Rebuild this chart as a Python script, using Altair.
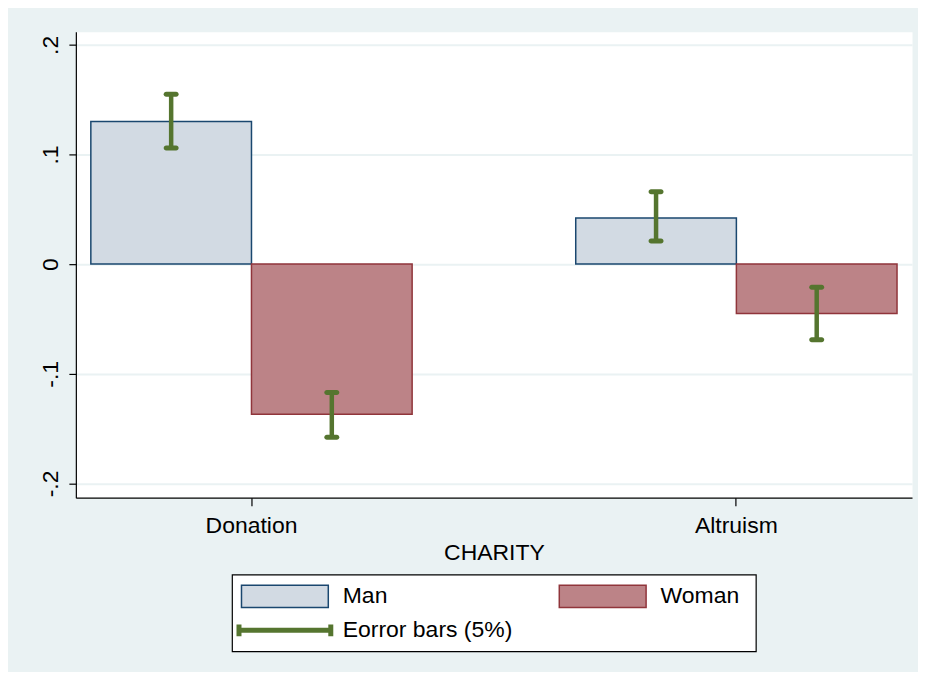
import altair as alt
import pandas as pd

FONT = "Liberation Sans"

# ---- data ----
categories = ["Donation", "Altruism"]
genders = ["Man", "Woman"]
means_man = [0.130, 0.042]
means_woman = [-0.137, -0.045]
ci_low_man = [0.106, 0.021]
ci_high_man = [0.155, 0.066]
ci_low_woman = [-0.158, -0.069]
ci_high_woman = [-0.117, -0.021]
y_ticks = [-0.2, -0.1, 0, 0.1, 0.2]

legend_labels = ["Man", "Woman", "Eorror bars (5%)"]
legend_col = [0, 1, 0]
legend_row = [0, 0, 1]

# ---- styles ----
fills = ["#D2DAE3", "#BC8387"]
strokes = ["#1A476F", "#90353B"]
err_color = "#55752F"
bg = "#EAF2F3"

rows = []
for i, c in enumerate(categories):
    rows.append({"charity": c, "gender": "Man", "mean": means_man[i],
                 "lo": ci_low_man[i], "hi": ci_high_man[i]})
    rows.append({"charity": c, "gender": "Woman", "mean": means_woman[i],
                 "lo": ci_low_woman[i], "hi": ci_high_woman[i]})
df = pd.DataFrame(rows)

x_enc = alt.X("charity:N", sort=categories,
              scale=alt.Scale(paddingInner=0.3374, paddingOuter=0.0309),
              axis=alt.Axis(title="CHARITY", labelAngle=0, tickSize=8,
                            labelPadding=9, titlePadding=4, grid=False,
                            domainWidth=1.2, tickWidth=1.2))
xo_enc = alt.XOffset("gender:N", sort=genders,
                     scale=alt.Scale(paddingInner=0, paddingOuter=0))
y_scale = alt.Scale(domain=[-0.213, 0.212], nice=False, zero=False)
y_axis = alt.Axis(values=y_ticks, title=None, labelAngle=270,
                  labelExpr="datum.value == 0 ? '0' : (datum.value < 0 ? '-' : '') + '.' + format(abs(datum.value) * 10, '.0f')",
                  grid=True, gridColor=bg, gridWidth=2, tickSize=7,
                  labelPadding=6, domainWidth=1.2, tickWidth=1.2,
                  minExtent=38, maxExtent=38)

base = alt.Chart(df).encode(x=x_enc, xOffset=xo_enc)

bars = base.mark_bar(strokeWidth=1.5).encode(
    y=alt.Y("mean:Q", scale=y_scale, axis=y_axis),
    y2=alt.datum(0),
    fill=alt.Fill("gender:N", scale=alt.Scale(domain=genders, range=fills), legend=None),
    stroke=alt.Stroke("gender:N", scale=alt.Scale(domain=genders, range=strokes), legend=None),
)
err_rule = base.mark_rule(color=err_color, strokeWidth=4.5).encode(
    y=alt.Y("lo:Q", scale=y_scale), y2="hi:Q")
cap_lo = base.mark_tick(color=err_color, size=15, thickness=5, cornerRadius=2.5,
                        opacity=1).encode(y=alt.Y("lo:Q", scale=y_scale))
cap_hi = base.mark_tick(color=err_color, size=15, thickness=5, cornerRadius=2.5,
                        opacity=1).encode(y=alt.Y("hi:Q", scale=y_scale))

main = alt.layer(bars, err_rule, cap_lo, cap_hi).properties(
    width=838, height=467,
    view=alt.ViewBackground(fill="white", stroke="transparent"))

# ---- legend ----
leg_df = pd.DataFrame({"label": legend_labels, "col": legend_col, "row": legend_row})
RECT = "M-1,-0.256L1,-0.256L1,0.256L-1,0.256Z"
ERRP = "M-1,0L1,0M-1,-0.13L-1,0.13M1,-0.13L1,0.13"
lbase = alt.Chart(leg_df).encode(
    x=alt.X("col:Q", scale=alt.Scale(domain=[0, 1], range=[53, 371.5]), axis=None),
    y=alt.Y("row:Q", scale=alt.Scale(domain=[0, 1], range=[22, 56]), axis=None),
)
swatch = lbase.transform_filter(
    alt.FieldOneOfPredicate(field="label", oneOf=genders)
).mark_point(shape=RECT, size=7569, filled=True, opacity=1, strokeWidth=1.5).encode(
    fill=alt.Fill("label:N", scale=alt.Scale(domain=genders, range=fills), legend=None),
    stroke=alt.Stroke("label:N", scale=alt.Scale(domain=genders, range=strokes), legend=None),
)
errsym = lbase.transform_filter(
    alt.datum.label == legend_labels[2]
).mark_point(shape=ERRP, size=8464, filled=False, opacity=1, stroke=err_color,
             strokeWidth=5)
ltext = lbase.mark_text(align="left", baseline="middle", dx=58, fontSize=23,
                        font=FONT, color="black").encode(text="label:N")
legend = alt.layer(swatch, errsym, ltext).properties(
    width=525, height=77,
    view=alt.ViewBackground(fill="white", stroke="black", strokeWidth=1.2))

chart = alt.vconcat(main, legend, spacing=77, center=True, bounds="flush").properties(
    padding={"left": 29, "top": 22, "right": 5, "bottom": 19},
    background=bg,
).configure_axis(
    labelFont=FONT, titleFont=FONT, labelFontSize=23, titleFontSize=23,
    titleFontWeight="normal", labelColor="black", titleColor="black",
    domainColor="black", tickColor="black",
)

chart.save("out.html", embed_options={"renderer": "svg", "actions": False})
